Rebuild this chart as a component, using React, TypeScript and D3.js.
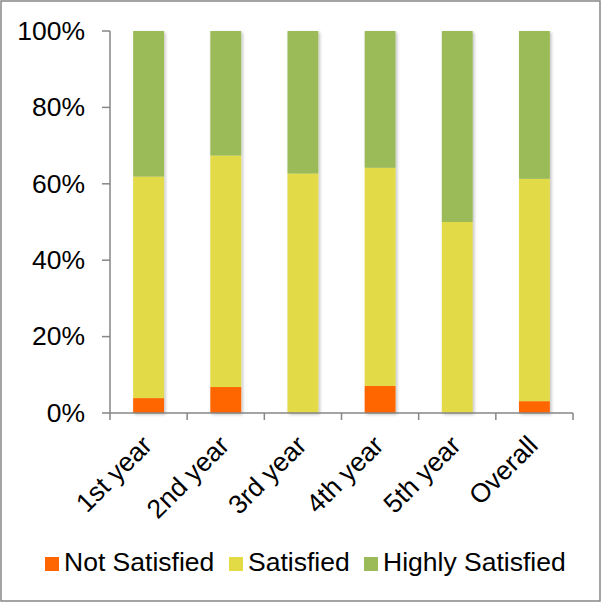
import React from "react";
import * as d3 from "d3";

const categories = ["1st year", "2nd year", "3rd year", "4th year", "5th year", "Overall"];
const notSatisfied = [3.9, 6.8, 0, 7.1, 0, 3.1];
const satisfied = [58.0, 60.6, 62.7, 57.1, 50.0, 58.2];
const highlySatisfied = [38.1, 32.6, 37.3, 35.8, 50.0, 38.7];
const seriesNames = ["Not Satisfied", "Satisfied", "Highly Satisfied"];
const seriesColors = ["#FF6600", "#E2DB46", "#9BBB59"];
const yTicks = [0, 20, 40, 60, 80, 100];

const W = 602;
const H = 603;
const left = 110;
const right = 573;
const top = 31;
const bottom = 413;
const FONT = "'Liberation Sans', Arial, sans-serif";
const FS = 26.5;

export default function App() {
  const x = d3.scaleBand<string>().domain(categories).range([left, right]).paddingInner(0.6).paddingOuter(0.3);
  const xOuter = d3.scaleBand<string>().domain(categories).range([left, right]);
  const y = d3.scaleLinear().domain([0, 100]).range([bottom, top]);

  const rows = categories.map((c, i) => ({
    cat: c,
    "Not Satisfied": notSatisfied[i],
    Satisfied: satisfied[i],
    "Highly Satisfied": highlySatisfied[i],
  }));
  const stacked = d3.stack<any>().keys(seriesNames)(rows);

  const legendX = [45, 229, 364];

  return (
    <svg width={W} height={H} style={{ position: "absolute", left: 0, top: 0, background: "#fff" }} fontFamily={FONT}>
      <defs>
        <filter id="shadow" x="-20%" y="-20%" width="140%" height="140%">
          <feDropShadow dx="1.5" dy="1.5" stdDeviation="1.5" floodColor="#000" floodOpacity="0.25" />
        </filter>
      </defs>
      <rect x={1} y={1} width={599} height={600} fill="#fff" stroke="#868686" strokeWidth={1.5} />
      {/* bars */}
      <g filter="url(#shadow)">
        {stacked.map((s, si) =>
          s.map((d, i) => {
            const h = y(d[0]) - y(d[1]);
            if (h <= 0) return null;
            return (
              <rect
                key={`${si}-${i}`}
                x={x(categories[i])}
                y={y(d[1])}
                width={x.bandwidth()}
                height={h}
                fill={seriesColors[si]}
              />
            );
          })
        )}
      </g>
      {/* y axis */}
      <line x1={left} x2={left} y1={top} y2={bottom} stroke="#868686" strokeWidth={1.5} />
      {yTicks.map((t) => (
        <g key={t}>
          <line x1={left - 8} x2={left} y1={y(t)} y2={y(t)} stroke="#868686" strokeWidth={1.5} />
          <text x={85} y={y(t)} dy="0.33em" textAnchor="end" fontSize={FS} fill="#000">
            {t}%
          </text>
        </g>
      ))}
      {/* x axis */}
      <line x1={left} x2={right} y1={bottom} y2={bottom} stroke="#868686" strokeWidth={1.5} />
      {[...categories.map((c) => xOuter(c) as number), right].map((tx, i) => (
        <line key={i} x1={tx} x2={tx} y1={bottom} y2={bottom + 7} stroke="#868686" strokeWidth={1.5} />
      ))}
      {categories.map((c) => {
        const cx = (xOuter(c) as number) + xOuter.bandwidth() / 2 + 5;
        const cy = 447;
        return (
          <text
            key={c}
            x={cx}
            y={cy}
            textAnchor="end"
            fontSize={FS}
            fill="#000"
            transform={`rotate(-45 ${cx} ${cy})`}
          >
            {c}
          </text>
        );
      })}
      {/* legend */}
      {seriesNames.map((n, i) => (
        <g key={n}>
          <rect x={legendX[i]} y={557} width={14} height={14} fill={seriesColors[i]} />
          <text x={legendX[i] + 19} y={571} fontSize={FS} fill="#000">
            {n}
          </text>
        </g>
      ))}
    </svg>
  );
}
